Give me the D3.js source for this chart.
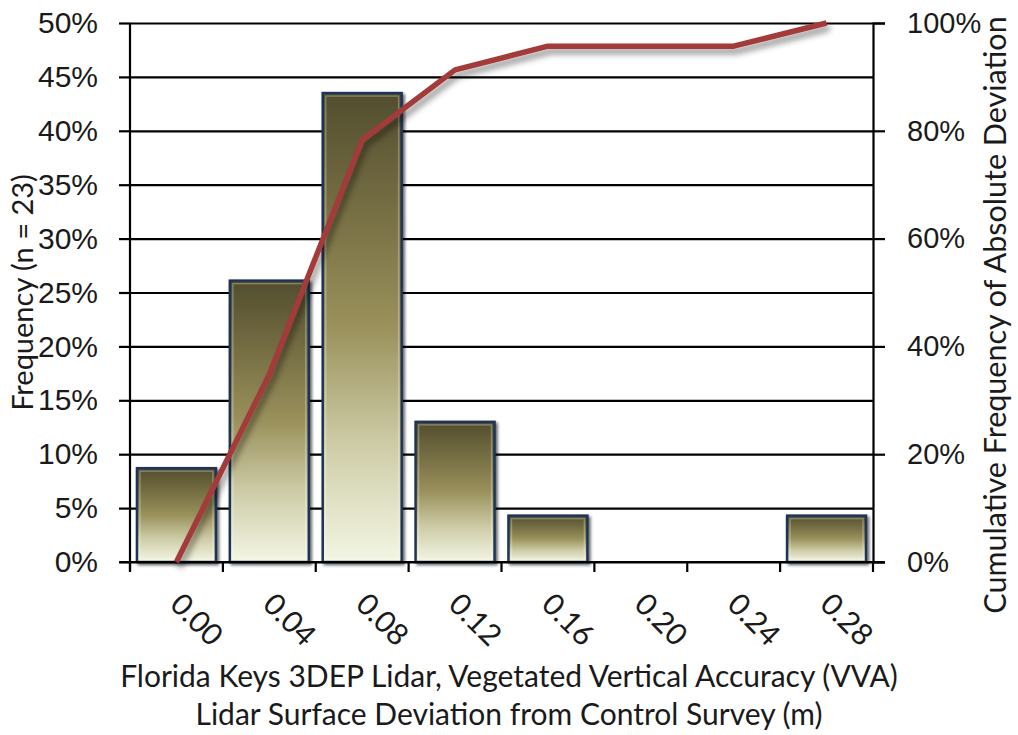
<!DOCTYPE html>
<html>
<head>
<meta charset="utf-8">
<script src="https://cdn.jsdelivr.net/npm/d3@7"></script>
<style>
  html, body { margin: 0; padding: 0; background: #fff; }
  svg { display: block; font-family: Lato, "Open Sans", sans-serif; }
  .tick text { fill: #1a1a1a; }
</style>
</head>
<body>
<svg id="chart" width="1018" height="735"></svg>
<script>
// Bin labels (m)
const categories = ["0.00", "0.04", "0.08", "0.12", "0.16", "0.20", "0.24", "0.28"];
// Frequency per bin, percent of n = 23
const frequency = [8.7, 26.1, 43.5, 13.0, 4.3, 0, 0, 4.3];
// Cumulative frequency of absolute deviation, percent
const cumulative = [0, 34.8, 78.3, 91.3, 95.7, 95.7, 95.7, 100];
// Axis ticks
const leftTicks = [0, 5, 10, 15, 20, 25, 30, 35, 40, 45, 50];
const rightTicks = [0, 20, 40, 60, 80, 100];

const svg = d3.select("#chart");
const plot = { left: 130, right: 873, top: 23, bottom: 562 };

const x = d3.scaleBand()
  .domain(categories)
  .range([plot.left, plot.right])
  .paddingInner(0.15)
  .paddingOuter(0.075);
const yL = d3.scaleLinear().domain([0, 50]).range([plot.bottom, plot.top]);
const yR = d3.scaleLinear().domain([0, 100]).range([plot.bottom, plot.top]);

const defs = svg.append("defs");
const grad = defs.append("linearGradient")
  .attr("id", "barFill").attr("x1", 0).attr("y1", 0).attr("x2", 0).attr("y2", 1);
[[0, "#524d2e"], [0.3, "#7d7548"], [0.5, "#9a915c"], [0.75, "#cecca7"], [1, "#f3f6e4"]]
  .forEach(([o, c]) => grad.append("stop").attr("offset", o).attr("stop-color", c));

const barShadow = defs.append("filter").attr("id", "barShadow")
  .attr("x", "-10%").attr("y", "-10%").attr("width", "130%").attr("height", "130%");
barShadow.append("feDropShadow").attr("dx", 2).attr("dy", 2)
  .attr("stdDeviation", 1.5).attr("flood-color", "#000").attr("flood-opacity", 0.6);

const lineShadow = defs.append("filter").attr("id", "lineShadow")
  .attr("x", "-10%").attr("y", "-10%").attr("width", "130%").attr("height", "130%");
lineShadow.append("feDropShadow").attr("dx", 3).attr("dy", 5)
  .attr("stdDeviation", 3).attr("flood-color", "#000").attr("flood-opacity", 0.45);

// Horizontal gridlines with outward left ticks
svg.append("g")
  .attr("transform", `translate(${plot.left},0)`)
  .call(d3.axisLeft(yL).tickValues(leftTicks).tickSize(11)
    .tickFormat(d => d + "%").tickPadding(21))
  .call(g => g.select(".domain").remove())
  .call(g => g.selectAll(".tick line").attr("stroke", "#000").attr("stroke-width", 2.2)
    .attr("x2", -11).clone().attr("x1", 0).attr("x2", plot.right - plot.left))
  .call(g => g.selectAll(".tick text").attr("font-size", 30));

// Right axis
svg.append("g")
  .attr("transform", `translate(${plot.right},0)`)
  .call(d3.axisRight(yR).tickValues(rightTicks).tickSize(12)
    .tickFormat(d => d + "%").tickPadding(22))
  .call(g => g.select(".domain").attr("stroke", "#000").attr("stroke-width", 2.2))
  .call(g => g.selectAll(".tick line").attr("stroke", "#000").attr("stroke-width", 2.2))
  .call(g => g.selectAll(".tick text").attr("font-size", 29));

// Left axis line
svg.append("line")
  .attr("x1", plot.left).attr("x2", plot.left)
  .attr("y1", plot.top).attr("y2", plot.bottom + 9)
  .attr("stroke", "#000").attr("stroke-width", 2.2);

// Bars
const barData = categories.map((c, i) => ({ c, v: frequency[i] })).filter(d => d.v > 0);
const bars = svg.append("g").attr("filter", "url(#barShadow)");
bars.selectAll("rect.bar")
  .data(barData)
  .join("rect")
  .attr("class", "bar")
  .attr("x", d => x(d.c))
  .attr("y", d => yL(d.v))
  .attr("width", x.bandwidth())
  .attr("height", d => yL(0) - yL(d.v))
  .attr("fill", "url(#barFill)")
  .attr("stroke", "#1d3556")
  .attr("stroke-width", 2.5);
// Soft inner bevel
svg.append("g").selectAll("rect")
  .data(barData)
  .join("rect")
  .attr("x", d => x(d.c) + 3)
  .attr("y", d => yL(d.v) + 3)
  .attr("width", x.bandwidth() - 6)
  .attr("height", d => yL(0) - yL(d.v) - 6)
  .attr("fill", "none")
  .attr("stroke", "rgba(255,255,240,0.28)")
  .attr("stroke-width", 1.5);

// Bottom axis with ticks at bin boundaries
const gap = (x.step() - x.bandwidth()) / 2;
const boundaries = categories.map(c => x(c) - gap)
  .concat([x(categories[categories.length - 1]) + x.bandwidth() + gap]);
svg.append("line")
  .attr("x1", plot.left - 11).attr("x2", plot.right + 12)
  .attr("y1", plot.bottom).attr("y2", plot.bottom)
  .attr("stroke", "#000").attr("stroke-width", 2.2);
svg.append("g").selectAll("line")
  .data(boundaries)
  .join("line")
  .attr("x1", d => d).attr("x2", d => d)
  .attr("y1", plot.bottom).attr("y2", plot.bottom + 10)
  .attr("stroke", "#000").attr("stroke-width", 2.2);

// Rotated bin labels
svg.append("g").selectAll("text")
  .data(categories)
  .join("text")
  .attr("transform", d => `translate(${x(d) + x.bandwidth() / 2 - 8},${plot.bottom + 44}) rotate(45)`)
  .attr("font-size", 30)
  .attr("fill", "#1a1a1a")
  .text(d => d);

// Cumulative line
const line = d3.line()
  .x((d, i) => x(categories[i]) + x.bandwidth() / 2)
  .y(d => yR(d));
svg.append("path")
  .datum(cumulative)
  .attr("d", line)
  .attr("fill", "none")
  .attr("stroke", "#a33a3a")
  .attr("stroke-width", 5.5)
  .attr("stroke-linejoin", "round")
  .attr("filter", "url(#lineShadow)");

// Axis titles
svg.append("text")
  .attr("transform", `translate(33,${(plot.top + plot.bottom) / 2}) rotate(-90)`)
  .attr("text-anchor", "middle")
  .attr("font-size", 29)
  .attr("fill", "#1a1a1a")
  .text("Frequency (n = 23)");

svg.append("text")
  .attr("transform", `translate(1006,315) rotate(-90)`)
  .attr("text-anchor", "middle")
  .attr("font-size", 30.5)
  .attr("fill", "#1a1a1a")
  .text("Cumulative Frequency of Absolute Deviation");

const title = svg.append("text")
  .attr("text-anchor", "middle")
  .attr("font-size", 30)
  .attr("fill", "#1a1a1a");
title.append("tspan").attr("x", 509).attr("y", 687)
  .text("Florida Keys 3DEP Lidar, Vegetated Vertical Accuracy (VVA)");
title.append("tspan").attr("x", 509).attr("y", 725)
  .text("Lidar Surface Deviation from Control Survey (m)");
</script>
</body>
</html>
